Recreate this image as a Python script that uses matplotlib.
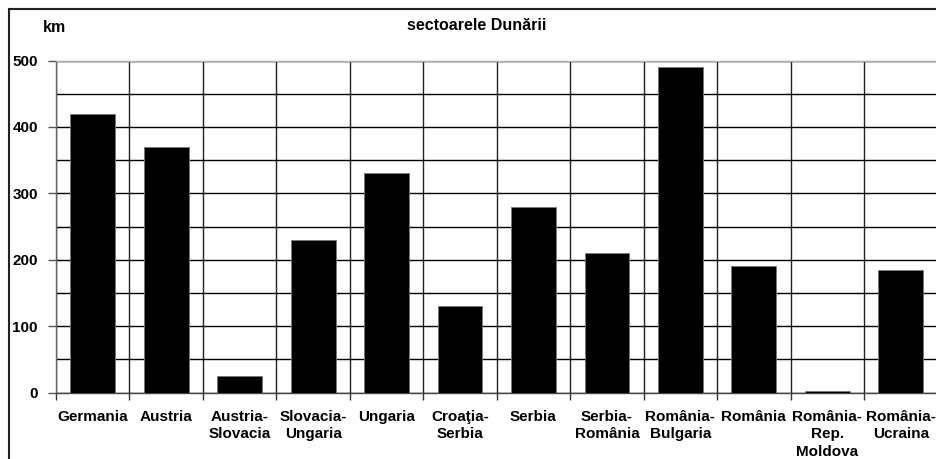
import matplotlib
matplotlib.use("Agg")
import matplotlib.pyplot as plt
from matplotlib.patches import Rectangle
import numpy as np

plt.rcParams["font.family"] = ["Liberation Sans", "DejaVu Sans"]
plt.rcParams["font.weight"] = "bold"

sectors = ["Germania", "Austria", "Austria-\nSlovacia", "Slovacia-\nUngaria", "Ungaria",
           "Croaţia-\nSerbia", "Serbia", "Serbia-\nRomânia", "România-\nBulgaria",
           "România", "România-\nRep.\nMoldova", "România-\nUcraina"]
km = [420, 370, 25, 230, 330, 130, 280, 210, 490, 190, 2, 185]
y_ticks = [0, 100, 200, 300, 400, 500]


def main():
    W, H = 936, 459
    fig = plt.figure(figsize=(W / 100, H / 100), dpi=100)
    left, right, top, bottom = 56, 937.5, 60.5, 392.5
    ax = fig.add_axes([left / W, (H - bottom) / H, (right - left) / W, (bottom - top) / H])

    x = np.arange(len(sectors))
    ax.bar(x, km, width=0.61, color="black", edgecolor="#777777", linewidth=0.6, zorder=3)

    ax.set_xlim(-0.5, len(sectors) - 0.5)
    ax.set_ylim(0, 500)

    # categories centred, tick marks between them
    ax.set_xticks(x)
    ax.set_xticklabels(sectors, fontsize=11, fontweight="bold", linespacing=1.33)
    ax.set_xticks(np.arange(-0.5, len(sectors)), minor=True)
    ax.tick_params(axis="x", which="major", length=0, pad=12.5)
    ax.tick_params(axis="x", which="minor", length=5, width=1, color="#333333")

    ax.set_yticks(y_ticks)
    ax.set_yticklabels([str(v) for v in y_ticks], fontsize=11, fontweight="bold")
    ax.set_yticks(np.arange(50, 500, 100), minor=True)
    ax.tick_params(axis="y", which="major", length=6, width=1, color="#555555", pad=7)
    ax.tick_params(axis="y", which="minor", length=0)

    ax.grid(True, axis="y", which="both", color="black", linewidth=1, zorder=1)
    ax.grid(True, axis="x", which="minor", color="#222222", linewidth=1, zorder=1)
    ax.grid(False, axis="x", which="major")
    ax.set_axisbelow(True)

    ax.spines["left"].set_color("#666666")
    ax.spines["bottom"].set_color("#444444")
    ax.spines["top"].set_color("#aaaaaa")
    for s in ax.spines.values():
        s.set_linewidth(1)

    fig.text(54.5 / W, 1 - 28 / H, "km", fontsize=11.5, fontweight="bold",
             ha="center", va="center")
    fig.text(477 / W, 1 - 26 / H, "sectoarele Dunării", fontsize=11.5, fontweight="bold",
             ha="center", va="center")

    # outer chart frame (runs past the right and bottom edges)
    fig.add_artist(Rectangle((8.5 / W, -0.1), 2, 1.1 - 9.5 / H, transform=fig.transFigure,
                             fill=False, edgecolor="#222222", linewidth=1.5))

    fig.savefig("out.png", dpi=100)
    plt.close(fig)


if __name__ == "__main__":
    main()
